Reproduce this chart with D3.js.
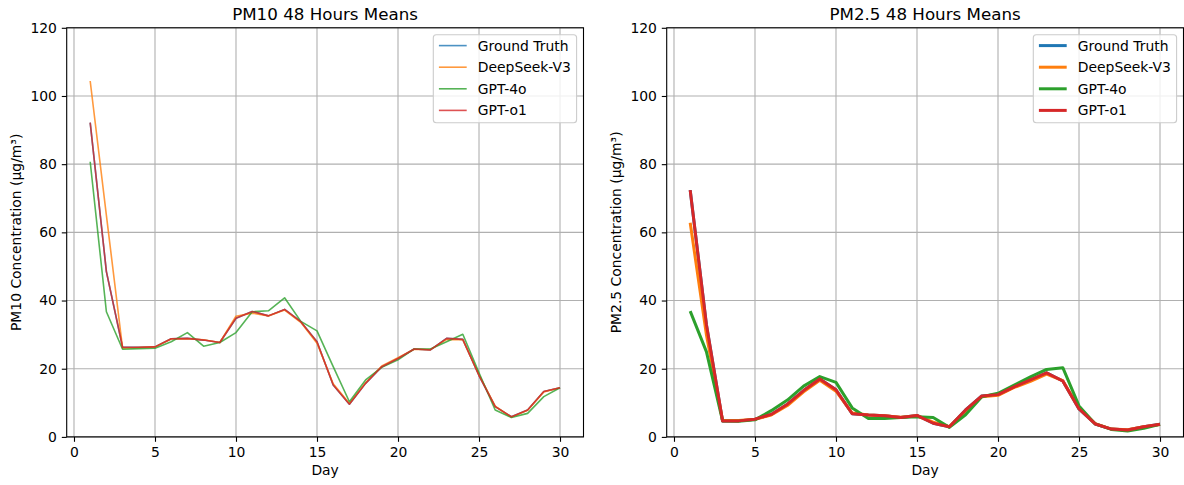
<!DOCTYPE html>
<html><head><meta charset="utf-8">
<script src="https://cdn.jsdelivr.net/npm/d3@7"></script>
<style>
body{margin:0;background:#fff}
svg{display:block}
text{font-family:"DejaVu Sans",sans-serif;fill:#000}
</style>
</head><body><svg id="c" width="1184" height="485"></svg>
<script>
const days = [1,2,3,4,5,6,7,8,9,10,11,12,13,14,15,16,17,18,19,20,21,22,23,24,25,26,27,28,29,30];
const xTicks = [0,5,10,15,20,25,30];
const yTicks = [0,20,40,60,80,100,120];
const seriesNames = ["Ground Truth","DeepSeek-V3","GPT-4o","GPT-o1"];
const seriesColors = ["#1f77b4","#ff7f0e","#2ca02c","#d62728"];

const pm10GroundTruth = [92.2,48.5,26.3,26.3,26.4,28.8,28.9,28.4,27.7,34.8,36.8,35.5,37.4,33.8,27.9,15.2,9.6,15.7,20.6,23.0,25.8,25.5,28.9,28.6,18.0,8.9,5.9,7.9,13.3,14.4];
const pm10DeepSeek    = [104.4,65.0,26.0,26.2,26.4,28.7,28.8,28.5,27.7,35.4,36.3,35.5,37.2,33.6,27.5,15.6,9.8,15.9,20.8,23.2,25.7,25.6,28.6,28.5,18.2,9.0,5.8,7.8,13.2,14.4];
const pm10GPT4o       = [80.7,36.7,25.7,25.9,26.0,27.9,30.6,26.6,27.7,30.6,36.7,37.0,40.8,33.9,31.1,20.6,10.3,16.7,20.4,22.6,25.8,25.8,27.9,30.1,18.8,7.9,5.7,6.9,11.8,14.4];
const pm10GPTo1       = [92.2,48.5,26.3,26.3,26.4,28.8,28.9,28.4,27.7,34.8,36.8,35.5,37.4,33.8,27.9,15.2,9.6,15.7,20.6,23.0,25.8,25.5,28.9,28.6,18.0,8.9,5.9,7.9,13.3,14.4];

const pm25GroundTruth = [72.4,33.0,4.7,4.7,5.2,6.6,9.6,13.6,17.0,13.8,6.8,6.4,6.2,5.7,6.3,4.0,3.0,7.9,12.0,12.4,14.7,16.7,18.8,16.4,8.2,3.8,2.3,2.0,3.0,3.7];
const pm25DeepSeek    = [62.8,30.0,4.8,4.8,5.2,6.4,9.2,13.2,16.6,13.4,7.0,6.4,6.2,5.8,6.2,4.3,3.0,7.6,11.8,12.2,14.5,16.3,18.4,16.5,8.4,3.9,2.3,2.1,3.0,3.6];
const pm25GPT4o       = [36.9,25.0,4.7,4.6,5.0,7.7,10.8,14.9,17.7,16.0,8.5,5.4,5.4,5.7,5.9,5.7,2.8,6.5,11.8,12.8,15.2,17.6,19.8,20.3,9.1,3.8,2.2,1.7,2.5,3.7];
const pm25GPTo1       = [72.4,33.0,4.7,4.7,5.2,6.6,9.6,13.6,17.0,13.8,6.8,6.4,6.2,5.7,6.3,4.0,3.0,7.9,12.0,12.4,14.7,16.7,18.8,16.4,8.2,3.8,2.3,2.0,3.0,3.7];

const svg = d3.select("#c");
const FS = 13.9;

function panel(offsetX, title, ylabel, series, lw, alpha) {
  const L = 66.7 + offsetX, R = 583.5 + offsetX, T = 27.8, B = 436.9;
  const x = d3.scaleLinear().domain([-0.45, 31.45]).range([L, R]);
  const y = d3.scaleLinear().domain([0, 120]).range([B, T]);
  const g = svg.append("g");

  // grid
  g.append("g").selectAll("line").data(xTicks).join("line")
    .attr("x1", d => x(d)).attr("x2", d => x(d)).attr("y1", T).attr("y2", B)
    .attr("stroke", "#b0b0b0").attr("stroke-width", 1.1);
  g.append("g").selectAll("line").data(yTicks).join("line")
    .attr("y1", d => y(d)).attr("y2", d => y(d)).attr("x1", L).attr("x2", R)
    .attr("stroke", "#b0b0b0").attr("stroke-width", 1.1);

  // lines
  const line = d3.line().x((d, i) => x(days[i])).y(d => y(d));
  series.forEach((s, i) => {
    g.append("path").datum(s).attr("d", line)
      .attr("fill", "none").attr("stroke", seriesColors[i])
      .attr("stroke-width", lw).attr("stroke-opacity", alpha)
      .attr("stroke-linejoin", "round").attr("stroke-linecap", "butt");
  });

  // axes
  const ax = g.append("g").attr("transform", `translate(0,${B})`)
    .call(d3.axisBottom(x).tickValues(xTicks).tickSize(4.9).tickPadding(4.9).tickSizeOuter(0));
  const ay = g.append("g").attr("transform", `translate(${L},0)`)
    .call(d3.axisLeft(y).tickValues(yTicks).tickSize(4.9).tickPadding(4.9).tickSizeOuter(0));
  [ax, ay].forEach(a => {
    a.select(".domain").remove();
    a.selectAll("line").attr("stroke", "#000").attr("stroke-width", 1.1);
    a.selectAll("text").attr("font-size", FS).attr("font-family", "DejaVu Sans").attr("fill", "#000");
  });

  // spines
  g.append("rect").attr("x", L).attr("y", T).attr("width", R - L).attr("height", B - T)
    .attr("fill", "none").attr("stroke", "#000").attr("stroke-width", 1.1);

  // title & labels
  const cx = (L + R) / 2;
  g.append("text").attr("x", cx).attr("y", 19.5).attr("text-anchor", "middle")
    .attr("font-size", 16.7).text(title);
  g.append("text").attr("x", cx).attr("y", 475).attr("text-anchor", "middle")
    .attr("font-size", FS).text("Day");
  g.append("text").attr("transform", `translate(${21 + offsetX},${(T + B) / 2}) rotate(-90)`)
    .attr("text-anchor", "middle").attr("font-size", FS).text(ylabel);

  // legend
  const bx = R - 6.9 - 143.3, by = T + 6.9;
  const lg = g.append("g");
  lg.append("rect").attr("x", bx).attr("y", by).attr("width", 143.3).attr("height", 88)
    .attr("rx", 3).attr("fill", "#fff").attr("fill-opacity", 0.8)
    .attr("stroke", "#cccccc").attr("stroke-width", 1.1);
  seriesNames.forEach((n, i) => {
    const ly = by + 10.9 + i * 21.6;
    lg.append("line").attr("x1", bx + 5.6).attr("x2", bx + 33.4).attr("y1", ly).attr("y2", ly)
      .attr("stroke", seriesColors[i]).attr("stroke-width", lw).attr("stroke-opacity", alpha);
    lg.append("text").attr("x", bx + 44.5).attr("y", ly + 5).attr("font-size", FS).text(n);
  });
}

panel(0, "PM10 48 Hours Means", "PM10 Concentration (µg/m³)",
  [pm10GroundTruth, pm10DeepSeek, pm10GPT4o, pm10GPTo1], 1.6, 0.8);
panel(600, "PM2.5 48 Hours Means", "PM2.5 Concentration (µg/m³)",
  [pm25GroundTruth, pm25DeepSeek, pm25GPT4o, pm25GPTo1], 3.0, 1);
</script>
</body></html>
